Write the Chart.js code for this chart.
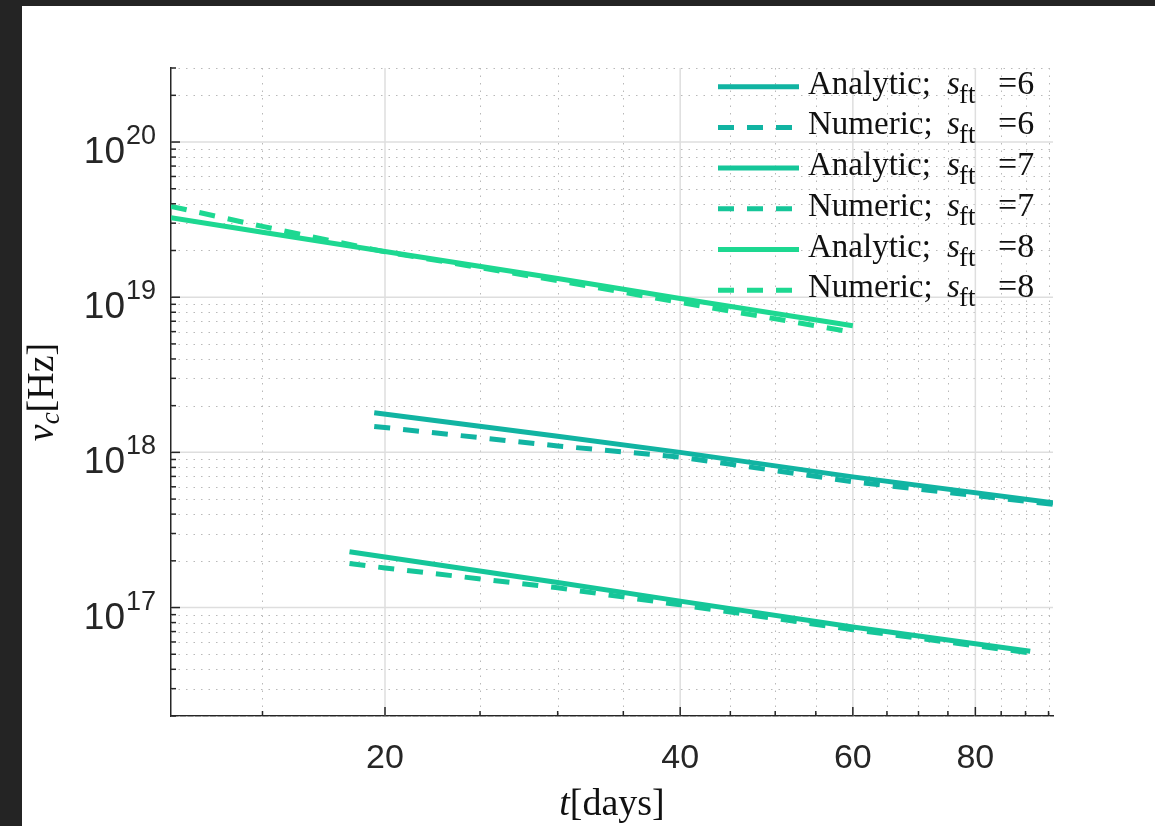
<!DOCTYPE html>
<html>
<head>
<meta charset="utf-8">
<script src="https://cdn.jsdelivr.net/npm/chart.js@4.4.0/dist/chart.umd.min.js"></script>
<style>
html, body { margin:0; padding:0; background:#242424; width:1155px; height:826px; overflow:hidden; }
#panel { position:absolute; left:22px; top:6px; width:1133px; height:820px; background:#fff; }
canvas { display:block; }
</style>
</head>
<body>
<div id="panel"><canvas id="chart" width="1133" height="820"></canvas></div>
<script>
// t [days] and nu_c [Hz]
var tS6 = [19.5, 30, 40, 60, 96];
var anaS6 = [1.80e18, 1.27e18, 1.0e18, 6.95e17, 4.74e17];
var numS6 = [1.47e18, 1.10e18, 9.33e17, 6.47e17, 4.62e17];

var tS7 = [18.4, 20, 30, 40, 60, 91];
var anaS7 = [2.29e17, 2.12e17, 1.45e17, 1.10e17, 7.5e16, 5.22e16];
var numS7 = [1.92e17, 1.80e17, 1.34e17, 1.04e17, 7.2e16, 5.1e16];

var tS8 = [12.1, 15, 20, 30, 40, 60];
var anaS8 = [3.25e19, 2.62e19, 1.97e19, 1.32e19, 9.8e18, 6.55e18];
var numS8 = [3.85e19, 2.86e19, 1.96e19, 1.28e19, 9.25e18, 5.95e18];

var sValues = [6, 7, 8];
var colors = ['#11b4a2', '#15c699', '#1dd891'];

// axes
var xRange = [12.1, 96];
var yRange = [2e16, 3e20];
var xMajor = [20, 40, 60, 80];
var xMinor = [15, 25, 30, 35, 45, 50, 55, 65, 70, 75, 85, 90, 95];
var yMajorExp = [17, 18, 19, 20];
var yMinorExp = [16, 17, 18, 19, 20];
var yMinorMant = [2, 3, 4, 5, 6, 7, 8, 9];

var serif = '"Liberation Serif", "DejaVu Serif", serif';
var sans = '"Liberation Sans", Arial, sans-serif';
var ink = '#262626';

function pts(t, v) {
    return t.map(function (x, i) { return { x: x, y: v[i] }; });
}

function makeSet(label, t, v, color, dashed) {
    return {
        label: label,
        data: pts(t, v),
        borderColor: color,
        backgroundColor: color,
        borderWidth: 5,
        borderDash: dashed ? [16, 13] : [],
        pointRadius: 0,
        fill: false,
        tension: 0
    };
}

var datasets = [
    makeSet('Analytic', tS6, anaS6, colors[0], false),
    makeSet('Numeric', tS6, numS6, colors[0], true),
    makeSet('Analytic', tS7, anaS7, colors[1], false),
    makeSet('Numeric', tS7, numS7, colors[1], true),
    makeSet('Analytic', tS8, anaS8, colors[2], false),
    makeSet('Numeric', tS8, numS8, colors[2], true)
];

function line(ctx, x1, y1, x2, y2) {
    ctx.beginPath();
    ctx.moveTo(x1, y1);
    ctx.lineTo(x2, y2);
    ctx.stroke();
}

function runsWidth(ctx, runs) {
    var w = 0;
    runs.forEach(function (r) { ctx.font = r.font; w += ctx.measureText(r.text).width; });
    return w;
}

function drawRuns(ctx, runs, x, y) {
    runs.forEach(function (r) {
        ctx.font = r.font;
        ctx.fillText(r.text, x, y + (r.dy || 0));
        x += ctx.measureText(r.text).width;
    });
}

function yMinorValues() {
    var out = [];
    yMinorExp.forEach(function (e) {
        yMinorMant.forEach(function (m) {
            var v = m * Math.pow(10, e);
            if (v >= yRange[0] && v <= yRange[1]) out.push(v);
        });
    });
    return out;
}

var matlabAxes = {
    id: 'matlabAxes',
    beforeDatasetsDraw: function (chart) {
        var ctx = chart.ctx, a = chart.chartArea, xs = chart.scales.x, ys = chart.scales.y;
        ctx.save();
        // dotted minor grid
        ctx.strokeStyle = '#b9b9b9';
        ctx.lineWidth = 1;
        ctx.setLineDash([1.5, 6]);
        xMinor.forEach(function (v) {
            var px = Math.round(xs.getPixelForValue(v)) + 0.5;
            line(ctx, px, a.top, px, a.bottom);
        });
        yMinorValues().forEach(function (v) {
            var py = Math.round(ys.getPixelForValue(v)) + 0.5;
            line(ctx, a.left, py, a.right, py);
        });
        // solid major grid
        ctx.setLineDash([]);
        ctx.strokeStyle = '#dedede';
        ctx.lineWidth = 1.5;
        xMajor.forEach(function (v) {
            var px = xs.getPixelForValue(v);
            line(ctx, px, a.top, px, a.bottom);
        });
        yMajorExp.forEach(function (e) {
            var py = ys.getPixelForValue(Math.pow(10, e));
            line(ctx, a.left, py, a.right, py);
        });
        ctx.restore();
    },
    afterDatasetsDraw: function (chart) {
        var ctx = chart.ctx, a = chart.chartArea, xs = chart.scales.x, ys = chart.scales.y;
        ctx.save();
        // inward ticks
        ctx.strokeStyle = ink;
        ctx.lineWidth = 1.5;
        xMinor.forEach(function (v) {
            var px = xs.getPixelForValue(v);
            line(ctx, px, a.bottom, px, a.bottom - 5);
        });
        xMajor.forEach(function (v) {
            var px = xs.getPixelForValue(v);
            line(ctx, px, a.bottom, px, a.bottom - 9);
        });
        yMinorValues().forEach(function (v) {
            var py = ys.getPixelForValue(v);
            line(ctx, a.left, py, a.left + 5, py);
        });
        yMajorExp.forEach(function (e) {
            var py = ys.getPixelForValue(Math.pow(10, e));
            line(ctx, a.left, py, a.left + 9, py);
        });

        // tick labels
        ctx.fillStyle = ink;
        ctx.textBaseline = 'alphabetic';
        ctx.textAlign = 'center';
        ctx.font = '34px ' + sans;
        xMajor.forEach(function (v) {
            ctx.fillText(String(v), xs.getPixelForValue(v), a.bottom + 52);
        });
        ctx.textAlign = 'right';
        yMajorExp.forEach(function (e) {
            var py = ys.getPixelForValue(Math.pow(10, e));
            var right = a.left - 15;
            ctx.font = '27px ' + sans;
            ctx.fillText(String(e), right, py + 2);
            var w = ctx.measureText(String(e)).width;
            ctx.font = '37px ' + sans;
            ctx.fillText('10', right - w - 1, py + 21);
        });

        // axis titles
        ctx.textAlign = 'left';
        ctx.fillStyle = '#111';
        var xt = [
            { text: 't', font: 'italic 38px ' + serif },
            { text: '[days]', font: '38px ' + serif }
        ];
        drawRuns(ctx, xt, (a.left + a.right) / 2 - runsWidth(ctx, xt) / 2, a.bottom + 99);

        var yt = [
            { text: '\u03bd', font: 'italic 38px ' + serif },
            { text: 'c', font: 'italic 27px ' + serif, dy: 6 },
            { text: '[Hz]', font: '38px ' + serif }
        ];
        ctx.translate(31, (a.top + a.bottom) / 2);
        ctx.rotate(-Math.PI / 2);
        drawRuns(ctx, yt, -runsWidth(ctx, yt) / 2, 0);
        ctx.restore();
    },
    afterDraw: function (chart) {
        // legend without box, drawn over the axes
        var ctx = chart.ctx;
        ctx.save();
        ctx.fillStyle = '#111';
        ctx.textAlign = 'left';
        ctx.textBaseline = 'alphabetic';
        chart.data.datasets.forEach(function (ds, i) {
            var y = 80.7 + 40.7 * i;
            var x0 = 786;
            ctx.strokeStyle = ds.borderColor;
            ctx.lineWidth = ds.borderWidth;
            ctx.setLineDash(ds.borderDash);
            line(ctx, 696, y, 777, y);
            ctx.setLineDash([]);
            ctx.font = '33px ' + serif;
            ctx.fillText(ds.label + ';', x0, y + 7);
            ctx.font = 'italic 33px ' + serif;
            ctx.fillText('s', x0 + 139, y + 7);
            ctx.font = '27px ' + serif;
            ctx.fillText('ft', x0 + 151, y + 16);
            ctx.font = '34px ' + serif;
            ctx.fillText('=' + sValues[Math.floor(i / 2)], x0 + 190, y + 7);
        });
        ctx.restore();
    }
};

var ctx = document.getElementById('chart').getContext('2d');
var chart = new Chart(ctx, {
    type: 'line',
    data: { datasets: datasets },
    options: {
        responsive: false,
        animation: false,
        devicePixelRatio: 1,
        layout: { padding: { left: 0, top: 62, right: 102, bottom: 0 } },
        plugins: { legend: { display: false }, tooltip: { enabled: false } },
        scales: {
            x: {
                type: 'logarithmic',
                min: xRange[0],
                max: xRange[1],
                grid: { display: false, drawTicks: false },
                border: { display: true, color: ink, width: 1.5 },
                ticks: { display: false },
                afterFit: function (s) { s.height = 110; }
            },
            y: {
                type: 'logarithmic',
                min: yRange[0],
                max: yRange[1],
                grid: { display: false, drawTicks: false },
                border: { display: true, color: ink, width: 1.5 },
                ticks: { display: false },
                afterFit: function (s) { s.width = 149; }
            }
        }
    },
    plugins: [matlabAxes]
});
</script>
</body>
</html>
